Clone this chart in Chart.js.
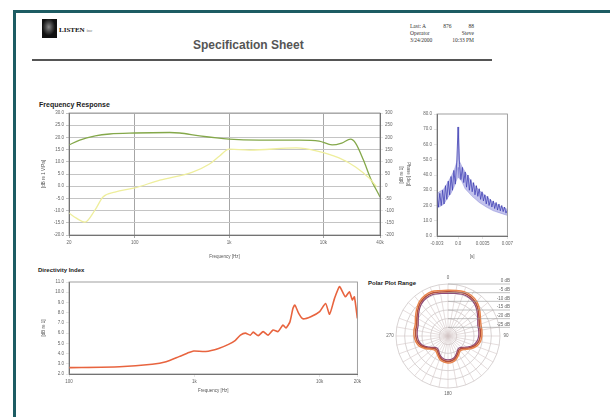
<!DOCTYPE html>
<html>
<head>
<meta charset="utf-8">
<script src="https://cdn.jsdelivr.net/npm/chart.js@4.4.1/dist/chart.umd.min.js"></script>
<style>
body{margin:0;width:610px;height:417px;overflow:hidden;position:relative;background:#fff;font-family:Arial,"Liberation Sans",sans-serif}
#frame{position:absolute;left:13px;top:10px;width:620px;height:420px;border-left:3px solid #1d5c63;border-top:3px solid #1d5c63}
#logo{position:absolute;left:42px;top:19px;width:15px;height:19px;background:radial-gradient(ellipse at 45% 42%,#8a8a8a 0,#444 30%,#111 55%)}
#brand{position:absolute;left:59px;top:26px;font:bold 7px "Liberation Serif",serif;color:#111}
#brand span{font-weight:normal;font-size:5px;color:#777}
#title{position:absolute;left:193px;top:38px;font:bold 12px Arial,sans-serif;color:#555}
#info{position:absolute;left:410px;top:23px;width:64px;font:5.5px "Liberation Serif",serif;color:#333;line-height:7px}
#info div{display:flex;justify-content:space-between}
#rule{position:absolute;left:32px;top:59px;width:460px;height:2px;background:#555}
.sec{position:absolute;font:bold 6px Arial,sans-serif;color:#222}
canvas{position:absolute}
</style>
</head>
<body>
<div id="frame"></div>
<div id="logo"></div>
<div id="brand">LISTEN <span>inc</span></div>
<div id="title">Specification Sheet</div>
<div id="info">
  <div><span>Last: A</span><span>876</span><span>88</span></div>
  <div><span>Operator</span><span>Steve</span></div>
  <div><span>3/24/2000</span><span>10:33 PM</span></div>
</div>
<div id="rule"></div>
<div class="sec" style="left:39px;top:101px;font-size:7px">Frequency Response</div>
<div class="sec" style="left:38px;top:267px">Directivity Index</div>
<div class="sec" style="left:368px;top:280px">Polar Plot Range</div>

<canvas id="resp" width="372" height="152" style="left:40px;top:108px"></canvas>
<canvas id="imp" width="117" height="152" style="left:398px;top:108px"></canvas>
<canvas id="dir" width="323" height="118" style="left:40px;top:276px"></canvas>
<canvas id="polar" width="175" height="130" style="left:373px;top:271px"></canvas>

<script>
// Frequency response
var freqTicks = [20, 100, 1000, 10000, 40000];
var freqTickLabels = ['20', '100', '1k', '10k', '40k'];
var levelTicks = [-20, -15, -10, -5, 0, 5, 10, 15, 20, 25, 30];
var phaseTicks = [-200, -150, -100, -50, 0, 50, 100, 150, 200, 250, 300];
var respFreq = [20, 26, 38, 54, 100, 234, 299, 487, 1000, 2090, 5560, 9040, 12400, 15700, 19500, 22000, 26700, 31600, 40000];
var respLevel = [16.9, 18.9, 20.6, 21.4, 21.8, 22.0, 21.8, 20.6, 19.3, 18.9, 18.9, 18.5, 16.9, 17.7, 19.3, 17.7, 10.7, 3.4, -4.4];
var phaseFreq = [20, 23.7, 29.6, 37.7, 45.9, 61.4, 100, 184, 410, 620, 794, 1000, 1650, 5190, 8640, 14700, 22000, 30500, 37000];
var phaseDeg = [-110, -130, -147, -98, -44, -24, -7, 25, 58, 91, 124, 152, 148, 157, 144, 116, 79, 34, -3];

// Impulse
var impTicks = [-0.003, 0, 0.0035, 0.007];
var impTickLabels = ['-0.003', '0.0', '0.0035', '0.007'];
var impLevelTicks = [0, 10, 20, 30, 40, 50, 60, 70, 80];
var impTime = [-0.0030, -0.0028, -0.0026, -0.0024, -0.0022, -0.0020, -0.0018, -0.0016, -0.0014, -0.0012,
  -0.0010, -0.0008, -0.0006, -0.0004, -0.0002, 0.0000, 0.0002, 0.0004, 0.0006, 0.0008,
  0.0010, 0.0012, 0.0014, 0.0016, 0.0018, 0.0020, 0.0022, 0.0024, 0.0026, 0.0028,
  0.0030, 0.0032, 0.0034, 0.0036, 0.0038, 0.0040, 0.0042, 0.0044, 0.0046, 0.0048,
  0.0050, 0.0052, 0.0054, 0.0056, 0.0058, 0.0060, 0.0062, 0.0064, 0.0066, 0.0068, 0.0070];
var impLevel = [27, 19, 28, 20, 30, 21, 33, 24, 36, 27,
  39, 30, 43, 34, 48, 71.5, 47, 37, 45, 35,
  42, 32, 40, 30, 37, 29, 35, 27, 33, 26,
  31, 24, 29, 23, 27, 21, 26, 20, 24, 19,
  23, 18, 22, 17, 21, 16.5, 20, 16, 19, 15, 17];
// envelope of the dense band
var impEnvTime = [-0.003, -0.002, -0.0015, -0.001, -0.0005, -0.0001, 0, 0.0001, 0.0005, 0.001, 0.002, 0.003, 0.004, 0.005, 0.006, 0.007];
var impUpper = [28, 31, 35, 39, 44, 50, 71.5, 50, 46, 42, 35, 30, 26, 22, 19.5, 17.5];
var impLower = [18, 21, 25, 28, 33, 38, 45, 38, 36, 31, 26, 22, 19, 16.5, 15, 13.5];

// Directivity index
var diTicks = [100, 1000, 10000, 20000];
var diTickLabels = ['100', '1k', '10k', '20k'];
var diLevelTicks = [2, 3, 4, 5, 6, 7, 8, 9, 10, 11];
var diFreq = [100, 253, 461, 595, 754, 905, 989, 1233, 1563, 1874, 2128, 2333, 2553, 2797, 2951, 3236, 3541, 3880, 4249, 4656,
  5100, 5383, 5794, 6118, 6341, 6823, 7341, 8490, 10000, 11150, 11995, 13150, 14390, 15200, 16060, 17270, 18240, 18920, 20000];
var diLevel = [2.62, 2.71, 2.95, 3.2, 3.7, 4.1, 4.25, 4.2, 4.5, 4.9, 5.3, 5.8, 6.0, 5.8, 6.1, 5.75, 6.15, 5.8, 6.3, 6.15,
  6.8, 6.5, 7.1, 8.4, 8.75, 7.9, 7.4, 7.6, 8.1, 8.9, 7.85, 9.4, 10.55, 10.05, 9.55, 10.05, 9.25, 9.55, 7.45];

// Polar plot
var polarAngles = ['0', '10', '20', '30', '40', '50', '60', '70', '80', '90', '100', '110', '120', '130', '140', '150', '160', '170',
  '180', '190', '200', '210', '220', '230', '240', '250', '260', '270', '280', '290', '300', '310', '320', '330', '340', '350'];
var polarRings = [0, -5, -10, -15, -20, -25];
var polarRingLabels = ['0 dB', '-5 dB', '-10 dB', '-15 dB', '-20 dB', '-25 dB'];
var polarMid = [-4.5, -4.2, -3.6, -3.9, -5.1, -7.2, -9.3, -10.8, -11.1, -11.4, -12.0, -13.5, -16.2, -18.9, -19.8, -18.6, -16.8, -15.6,
  -15.3, -15.6, -16.8, -18.6, -19.8, -18.9, -16.2, -13.5, -12.0, -11.4, -11.1, -10.8, -9.3, -7.2, -5.1, -3.9, -3.6, -4.2];
var polarHigh = [-3.6, -3.3, -2.8, -3.0, -4.1, -6.2, -8.4, -9.8, -10.2, -10.5, -11.0, -12.6, -15.2, -17.9, -18.9, -17.6, -15.9, -14.7,
  -14.4, -14.8, -15.8, -17.7, -18.8, -18.0, -15.3, -12.5, -11.1, -10.4, -10.1, -9.9, -8.3, -6.3, -4.2, -3.1, -2.7, -3.4];
var polarLow = [-5.4, -5.1, -4.5, -4.8, -6.0, -8.1, -10.2, -11.7, -12.0, -12.3, -13.0, -14.5, -17.2, -19.8, -20.7, -19.5, -17.7, -16.5,
  -16.2, -16.5, -17.6, -19.5, -20.7, -19.8, -17.1, -14.4, -12.9, -12.3, -12.0, -11.7, -10.2, -8.1, -6.0, -4.8, -4.5, -5.1];

Chart.defaults.font.family = 'Arial';
Chart.defaults.font.size = 4.5;
Chart.defaults.color = '#666';
Chart.defaults.animation = false;
Chart.defaults.responsive = false;
Chart.defaults.events = [];
Chart.defaults.plugins.legend.display = false;
Chart.defaults.plugins.tooltip.enabled = false;

function pts(xs, ys) {
    return xs.map(function(x, i) { return {x: x, y: ys[i]}; });
}

// box round the plot area
var framePlugin = {
    id: 'frame',
    afterDraw: function(chart) {
        var a = chart.chartArea, ctx = chart.ctx;
        ctx.save();
        ctx.strokeStyle = '#888';
        ctx.lineWidth = 0.8;
        ctx.strokeRect(a.left, a.top, a.right - a.left, a.bottom - a.top);
        ctx.restore();
    }
};

function tickSetter(list) {
    return function(s) { s.ticks = list.map(function(v) { return {value: v}; }); };
}

var tinyTitle = {display: true, font: {size: 4.5}, color: '#555', padding: {top: 1, bottom: 1}};

new Chart(document.getElementById('resp'), {
    type: 'line',
    data: {
        datasets: [{
            label: 'Phase',
            data: pts(phaseFreq, phaseDeg),
            yAxisID: 'y2',
            borderColor: '#eeee9c',
            borderWidth: 1.3,
            pointRadius: 0,
            cubicInterpolationMode: 'monotone'
        }, {
            label: 'Level',
            data: pts(respFreq, respLevel),
            yAxisID: 'y',
            borderColor: '#84a84a',
            borderWidth: 1.3,
            pointRadius: 0,
            cubicInterpolationMode: 'monotone'
        }]
    },
    options: {
        layout: {padding: {top: 5, left: 0, right: 0, bottom: 0}},
        scales: {
            x: {
                type: 'logarithmic', min: 20, max: 40000,
                afterBuildTicks: tickSetter(freqTicks),
                afterFit: function(s) { s.height = 25; },
                ticks: {autoSkip: false, maxRotation: 0, padding: 2, callback: function(v, i) { return freqTickLabels[i]; }},
                grid: {color: '#a6a6a6', tickLength: 3},
                border: {color: '#666'},
                title: Object.assign({}, tinyTitle, {text: 'Frequency [Hz]'})
            },
            y: {
                min: -20, max: 30,
                afterBuildTicks: tickSetter(levelTicks),
                afterFit: function(s) { s.width = 29; },
                ticks: {padding: 2, callback: function(v) { return v.toFixed(1); }},
                grid: {color: '#c4c4c4', tickLength: 3},
                border: {color: '#666'},
                title: Object.assign({}, tinyTitle, {text: '[dB re 1 V/Pa]'})
            },
            y2: {
                position: 'right', min: -200, max: 300,
                afterBuildTicks: tickSetter(phaseTicks),
                afterFit: function(s) { s.width = 32; },
                ticks: {padding: 2},
                grid: {drawOnChartArea: false, tickLength: 3},
                border: {color: '#666'},
                title: Object.assign({}, tinyTitle, {text: 'Phase [deg]'})
            }
        }
    },
    plugins: [framePlugin]
});

new Chart(document.getElementById('imp'), {
    type: 'line',
    data: {
        datasets: [{
            data: pts(impEnvTime, impUpper),
            borderColor: 'rgba(70,70,190,0.5)',
            borderWidth: 0.5,
            pointRadius: 0,
            fill: false
        }, {
            data: pts(impEnvTime, impLower),
            borderColor: 'rgba(70,70,190,0.5)',
            borderWidth: 0.5,
            pointRadius: 0,
            fill: '-1',
            backgroundColor: 'rgba(80,80,200,0.35)'
        }, {
            data: pts(impTime, impLevel),
            borderColor: 'rgba(45,45,165,0.9)',
            borderWidth: 0.8,
            pointRadius: 0
        }]
    },
    options: {
        layout: {padding: {top: 6, right: 3, left: 0, bottom: 0}},
        scales: {
            x: {
                type: 'linear', min: -0.003, max: 0.007,
                afterBuildTicks: tickSetter(impTicks),
                afterFit: function(s) { s.height = 24; },
                ticks: {autoSkip: false, maxRotation: 0, padding: 2, callback: function(v, i) { return impTickLabels[i]; }},
                grid: {drawOnChartArea: false, tickLength: 3},
                border: {color: '#666'},
                title: Object.assign({}, tinyTitle, {text: '[s]'})
            },
            y: {
                min: 0, max: 80,
                afterBuildTicks: tickSetter(impLevelTicks),
                afterFit: function(s) { s.width = 39; },
                ticks: {padding: 2, callback: function(v) { return v.toFixed(1); }},
                grid: {drawOnChartArea: false, tickLength: 3},
                border: {color: '#666'},
                title: Object.assign({}, tinyTitle, {text: '[dB re 1]'})
            }
        }
    },
    plugins: [framePlugin]
});

new Chart(document.getElementById('dir'), {
    type: 'line',
    data: {
        datasets: [{
            data: pts(diFreq, diLevel),
            borderColor: '#e8643f',
            borderWidth: 1.6,
            pointRadius: 0,
            tension: 0.2
        }]
    },
    options: {
        layout: {padding: {top: 6, right: 3, left: 0, bottom: 0}},
        scales: {
            x: {
                type: 'logarithmic', min: 100, max: 20000,
                afterBuildTicks: tickSetter(diTicks),
                afterFit: function(s) { s.height = 20; },
                ticks: {autoSkip: false, maxRotation: 0, padding: 2, callback: function(v, i) { return diTickLabels[i]; }},
                grid: {drawOnChartArea: false, tickLength: 3},
                border: {color: '#666'},
                title: Object.assign({}, tinyTitle, {text: 'Frequency [Hz]'})
            },
            y: {
                min: 2, max: 11,
                afterBuildTicks: tickSetter(diLevelTicks),
                afterFit: function(s) { s.width = 29; },
                ticks: {padding: 2, callback: function(v) { return v.toFixed(1); }},
                grid: {drawOnChartArea: false, tickLength: 3},
                border: {color: '#666'},
                title: Object.assign({}, tinyTitle, {text: '[dB re 1]'})
            }
        }
    },
    plugins: [framePlugin]
});

// leader lines from each ring to its label, plus angle labels
var polarLabels = {
    id: 'polarLabels',
    afterDraw: function(chart) {
        var s = chart.scales.r, ctx = chart.ctx;
        ctx.save();
        ctx.strokeStyle = '#9a9a9a';
        ctx.lineWidth = 0.6;
        ctx.fillStyle = '#666';
        ctx.font = '4.5px Arial';
        ctx.textBaseline = 'bottom';
        polarRings.forEach(function(v, i) {
            var y = s.yCenter - s.getDistanceFromCenterForValue(v);
            ctx.beginPath();
            ctx.moveTo(s.xCenter, y);
            ctx.lineTo(s.xCenter + 62, y);
            ctx.stroke();
            ctx.textAlign = 'right';
            ctx.fillText(polarRingLabels[i], s.xCenter + 62, y - 0.5);
        });
        ctx.textAlign = 'center';
        ctx.textBaseline = 'middle';
        [0, 9, 18, 27].forEach(function(idx) {
            var p = s.getPointPosition(idx, s.drawingArea + 6);
            ctx.fillText(polarAngles[idx], p.x, p.y);
        });
        ctx.restore();
    }
};

new Chart(document.getElementById('polar'), {
    type: 'radar',
    data: {
        labels: polarAngles,
        datasets: [{
            data: polarHigh, borderColor: '#e8844c', borderWidth: 1.4, pointRadius: 0, fill: false, tension: 0.3
        }, {
            data: polarMid, borderColor: '#b4503c', borderWidth: 1.6, pointRadius: 0, fill: false, tension: 0.3
        }, {
            data: polarLow, borderColor: '#8c4a78', borderWidth: 1.2, pointRadius: 0, fill: false, tension: 0.3
        }]
    },
    options: {
        layout: {padding: {left: 23, right: 48, top: 13, bottom: 13}},
        scales: {
            r: {
                min: -30, max: 0,
                ticks: {display: false, stepSize: 5},
                pointLabels: {display: false},
                grid: {color: '#c9c2c2', lineWidth: 0.7},
                angleLines: {color: '#d3c6c6', lineWidth: 0.6}
            }
        }
    },
    plugins: [polarLabels]
});
</script>
</body>
</html>
